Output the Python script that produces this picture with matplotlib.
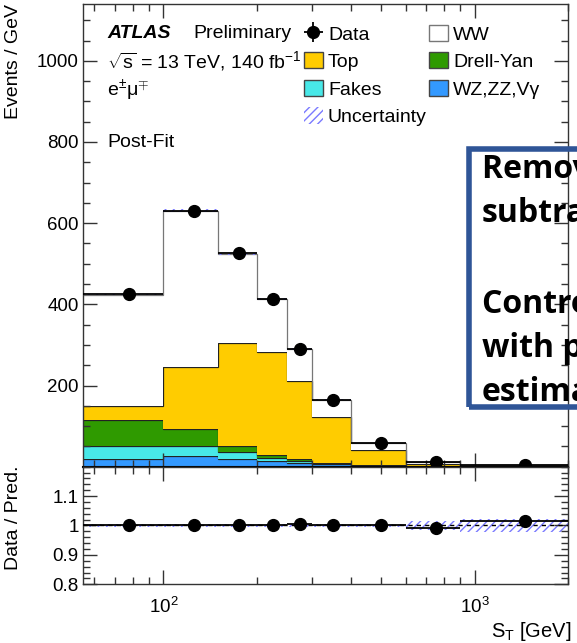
import numpy as np
import matplotlib.pyplot as plt
from matplotlib.patches import Patch, Rectangle
from matplotlib.ticker import FixedLocator, MultipleLocator, NullFormatter, FixedFormatter

plt.rcParams['font.family'] = ['Liberation Sans', 'DejaVu Sans']
plt.rcParams['mathtext.fontset'] = 'custom'
plt.rcParams['mathtext.rm'] = 'Liberation Sans'
plt.rcParams['mathtext.it'] = 'Liberation Sans:italic'
plt.rcParams['mathtext.bf'] = 'Liberation Sans:bold'
plt.rcParams['hatch.linewidth'] = 1.0

# S_T binning [GeV]
edges = np.array([55, 100, 150, 200, 250, 300, 400, 600, 900, 2000])

# post-fit yields, events / GeV
wzzzvg = np.array([20, 26, 18, 14, 10, 6, 2, 0.5, 0.1])
fakes = np.array([32, 25, 18, 7, 5, 2, 1, 0.2, 0.1])
drellyan = np.array([64, 41, 15, 8, 4, 2, 1, 0.3, 0.1])
top = np.array([34, 153, 253, 254, 193, 112, 38, 6, 0.7])
ww = np.array([274, 386, 221, 130, 78, 43, 16, 4, 2])
data = np.array([425, 631, 526, 414, 291, 165, 58, 10.9, 3.05])
rel_unc = np.array([0.005, 0.005, 0.005, 0.005, 0.005, 0.005, 0.006, 0.014, 0.021])

stack = [("WZ,ZZ,Vγ", wzzzvg, "#3399ff"),
         ("Fakes", fakes, "#48e8e8"),
         ("Drell-Yan", drellyan, "#2f9a00"),
         ("Top", top, "#ffcc00"),
         ("WW", ww, "white")]

centers = 0.5 * (edges[:-1] + edges[1:])
xerr = [centers - edges[:-1], edges[1:] - centers]
total = wzzzvg + fakes + drellyan + top + ww
ratio = data / total

fig = plt.figure(figsize=(5.77, 6.43), dpi=100)
ax = fig.add_axes([0.1433, 0.2742, 0.8416, 0.7196])
rax = fig.add_axes([0.1433, 0.0913, 0.8416, 0.1829], sharex=ax)

# stacked histogram
base = np.zeros(len(ww))
for name, vals, col in stack:
    ax.stairs(base + vals, edges, baseline=base.copy(), fill=True, color=col, lw=0)
    edge_col = "#777777" if name == "WW" else "#222222"
    ax.stairs(base + vals, edges, baseline=None, color=edge_col, lw=0.9)
    base = base + vals

ax.stairs(total * (1 + rel_unc), edges, baseline=total * (1 - rel_unc), fill=True,
          facecolor="none", edgecolor="#7a7aff", hatch="////", lw=0)

stat = np.sqrt(data * (edges[1:] - edges[:-1])) / (edges[1:] - edges[:-1])
eb = ax.errorbar(centers, data, xerr=xerr, yerr=stat, fmt="o", color="black",
                 ms=8.5, lw=1.3, capsize=0, zorder=10)

ax.set_xscale("log")
ax.set_xlim(55, 2000)
ax.set_ylim(0, 1140)
ax.yaxis.set_major_locator(FixedLocator([200, 400, 600, 800, 1000]))
ax.yaxis.set_minor_locator(MultipleLocator(50))
ax.tick_params(labelbottom=False)
ax.set_ylabel("Events / GeV", loc="top", fontsize=14)
ax.yaxis.set_label_coords(-0.125, 1.0)

# ratio panel
rax.stairs(1 + rel_unc, edges, baseline=1 - rel_unc, fill=True,
           facecolor="none", edgecolor="#7a7aff", hatch="////", lw=0)
rax.axhline(1.0, color="black", ls=(0, (3, 3)), lw=1.0)
rax.errorbar(centers, ratio, xerr=xerr, yerr=stat / total, fmt="o", color="black",
             ms=8.5, lw=1.3, capsize=0, zorder=10)
rax.set_ylim(0.8, 1.2)
rax.yaxis.set_major_locator(FixedLocator([0.8, 0.9, 1.0, 1.1]))
rax.yaxis.set_major_formatter(FixedFormatter(["0.8", "0.9", "1", "1.1"]))
rax.yaxis.set_minor_locator(MultipleLocator(0.02))
rax.set_ylabel("Data / Pred.", fontsize=14)
rax.yaxis.set_label_coords(-0.125, 0.57)
rax.set_xlabel("S$_{\\mathrm{T}}$ [GeV]", fontsize=14.5, loc="right")
rax.xaxis.set_label_coords(1.007, -0.30)
rax.xaxis.set_minor_formatter(NullFormatter())

for a in (ax, rax):
    a.tick_params(which="both", direction="in", top=True, right=True,
                  labelsize=13.5, width=1.0, color="#333333")
    a.tick_params(which="major", length=10)
    a.tick_params(which="minor", length=5)
    a.tick_params(axis="y", pad=3)
    for sp in a.spines.values():
        sp.set_color("#333333")
        sp.set_linewidth(1.0)
rax.tick_params(axis="x", which="major", pad=9)
ax.spines["bottom"].set_color("black")
ax.spines["bottom"].set_linewidth(1.5)

# labels
ax.text(0.050, 0.937, "ATLAS", transform=ax.transAxes, fontsize=14,
        fontweight="bold", fontstyle="italic", va="center")
ax.text(0.227, 0.937, "Preliminary", transform=ax.transAxes, fontsize=14, va="center")
ax.text(0.050, 0.877, "$\\sqrt{\\mathrm{s}}$ = 13 TeV, 140 fb$^{-1}$", transform=ax.transAxes,
        fontsize=14, va="center")
ax.text(0.050, 0.814, "e$^{\\pm}$μ$^{\\mp}$", transform=ax.transAxes, fontsize=14, va="center")
ax.text(0.050, 0.701, "Post-Fit", transform=ax.transAxes, fontsize=14, va="center")

handles = [eb,
           Patch(facecolor="#ffcc00", edgecolor="#444444"),
           Patch(facecolor="#48e8e8", edgecolor="#444444"),
           Patch(facecolor="none", edgecolor="#7a7aff", hatch="////", lw=0),
           Patch(facecolor="white", edgecolor="#777777"),
           Patch(facecolor="#2f9a00", edgecolor="#444444"),
           Patch(facecolor="#3399ff", edgecolor="#444444")]
labels = ["Data", "Top", "Fakes", "Uncertainty", "WW", "Drell-Yan", "WZ,ZZ,Vγ"]
ax.legend(handles, labels, ncol=2, loc="upper left", bbox_to_anchor=(0.455, 0.955),
          frameon=False, fontsize=14, borderpad=0, handlelength=1.0, handleheight=0.9,
          handletextpad=0.25, labelspacing=0.45, columnspacing=0.1, borderaxespad=0)

# note box on the right
fig.add_artist(Rectangle((0.812, 0.3678), 0.4, 0.4005, transform=fig.transFigure,
                         fill=False, edgecolor="#2f5597", lw=4.0, zorder=20))
note = [("Remove top by", 0.7232), ("subtraction", 0.6547),
        ("Control region", 0.5132), ("with prompt", 0.4448), ("estimate", 0.3764)]
for line, yb in note:
    fig.text(0.835, yb, line, fontsize=23, fontweight="bold", family="Open Sans",
             va="baseline", ha="left", zorder=21)

fig.savefig("out.png", dpi=100)
